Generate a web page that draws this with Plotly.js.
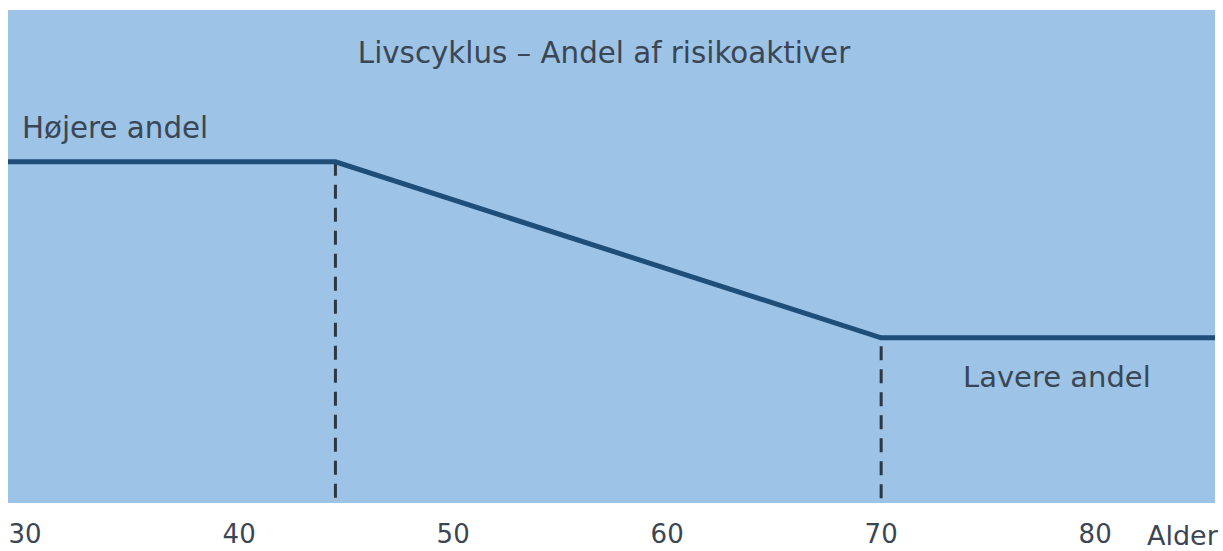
<!DOCTYPE html>
<html>
<head>
<meta charset="utf-8">
<script src="https://cdn.plot.ly/plotly-3.0.1.min.js"></script>
<style>html,body{margin:0;padding:0;background:#fff;}#chart{width:1223px;height:551px;}</style>
</head>
<body>
<div id="chart"></div>
<script>
// Data (y is an unitless share of risky assets)
const ages = [29.2, 44.5, 70, 85.6];
const riskShare = [69.2, 69.2, 33.5, 33.5];
const breakAges = [44.5, 70];
const breakTop = [69.2, 31.8];
const tickAges = [30, 40, 50, 60, 70, 80];
const tickLabels = ['30', '40', '50', '60', '70', '80'];
const titleText = 'Livscyklus – Andel af risikoaktiver';
const highLabel = 'Højere andel';
const lowLabel = 'Lavere andel';
const axisLabel = 'Alder';

const textColor = '#3b4654';
const fontFam = 'DejaVu Sans, Verdana, sans-serif';

const traces = [];
breakAges.forEach((a, i) => {
  traces.push({
    x: [a, a], y: [breakTop[i], 0], mode: 'lines', type: 'scatter',
    line: {color: '#2e3744', width: 3, dash: '14px,9px'},
    hoverinfo: 'skip', showlegend: false
  });
});
traces.push({
  x: ages, y: riskShare, mode: 'lines', type: 'scatter',
  line: {color: '#1f4e79', width: 5},
  showlegend: false
});

const layout = {
  width: 1223, height: 551,
  margin: {l: 8, r: 8, t: 10, b: 48},
  paper_bgcolor: '#ffffff',
  plot_bgcolor: '#9dc3e6',
  showlegend: false,
  title: {
    text: titleText, x: 604/1223, xanchor: 'center', y: 1 - 53/551, yanchor: 'middle',
    font: {family: fontFam, size: 29.3, color: textColor}
  },
  xaxis: {
    range: [29.2, 85.6], showgrid: false, zeroline: false, showline: false,
    tickvals: tickAges, ticktext: tickLabels, ticks: '', ticklabelstandoff: 13,
    tickfont: {family: fontFam, size: 26, color: textColor}, fixedrange: true
  },
  yaxis: {
    range: [0, 100], showgrid: false, zeroline: false, showline: false,
    showticklabels: false, ticks: '', fixedrange: true
  },
  annotations: [
    {text: highLabel, xref: 'paper', yref: 'paper', x: 12/1207, xanchor: 'left', y: (503-128)/493, yanchor: 'middle', showarrow: false, font: {family: fontFam, size: 29.3, color: textColor}},
    {text: lowLabel, xref: 'paper', yref: 'paper', x: (961-8)/1207, xanchor: 'left', y: (503-377)/493, yanchor: 'middle', showarrow: false, font: {family: fontFam, size: 29, color: textColor}},
    {text: axisLabel, xref: 'paper', yref: 'paper', x: (1221-8)/1207, xanchor: 'right', y: (503-535)/493, yanchor: 'middle', showarrow: false, font: {family: fontFam, size: 27, color: textColor}}
  ]
};

Plotly.newPlot('chart', traces, layout, {displayModeBar: false, staticPlot: true});
</script>
</body>
</html>
